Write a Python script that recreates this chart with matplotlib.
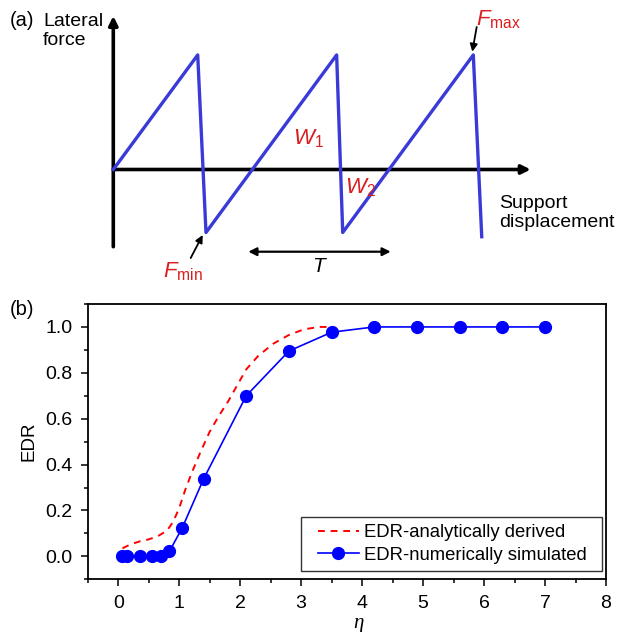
import matplotlib
matplotlib.use('Agg')
import matplotlib.pyplot as plt
from matplotlib.patches import Rectangle
from matplotlib.ticker import MultipleLocator, FormatStrFormatter

plt.rcParams['font.family'] = ['Liberation Sans', 'DejaVu Sans']
plt.rcParams['mathtext.fontset'] = 'custom'
plt.rcParams['mathtext.rm'] = 'Liberation Sans'
plt.rcParams['mathtext.it'] = 'Liberation Sans:italic'

# (a) idealised stick-slip force loop (displacement / force in units of the first peak)
disp = [0.0, 1.0, 1.098, 2.646, 2.718, 4.265, 4.365]
force = [0.0, 1.0, -0.55, 1.0, -0.55, 1.0, -0.587]

# (b) energy dissipation ratio vs eta
eta_num = [0.07, 0.14, 0.35, 0.56, 0.70, 0.84, 1.05, 1.40, 2.10, 2.80, 3.50, 4.20, 4.90, 5.60, 6.30, 7.00]
edr_num = [0.0, 0.0, 0.0, 0.0, 0.0, 0.022, 0.124, 0.337, 0.700, 0.895, 0.977, 1.0, 1.0, 1.0, 1.0, 1.0]

eta_ana = [0.07, 0.2, 0.35, 0.5, 0.65, 0.8, 0.9, 1.0, 1.1, 1.2, 1.35, 1.5, 1.65, 1.8, 1.95,
           2.1, 2.3, 2.55, 2.8, 3.05, 3.3, 3.5]
edr_ana = [0.035, 0.052, 0.065, 0.074, 0.088, 0.112, 0.15, 0.21, 0.29, 0.36, 0.455, 0.543, 0.612,
           0.674, 0.745, 0.815, 0.875, 0.928, 0.965, 0.99, 1.0, 1.0]

W, H = 618, 632
fig = plt.figure(figsize=(W / 100, H / 100), dpi=100)


def fx(px):
    return px / W


def fy(py):
    return 1 - py / H


red_txt = '#d81e1e'

# ---- panel (a) ----
ax_a = fig.add_axes([fx(113.3), fy(246.7), (530.7 - 113.3) / W, (246.7 - 16) / H])
ax_a.set_xlim(0, 4.945)
ax_a.set_ylim(-0.674, 1.34)
ax_a.axis('off')

axis_arrow = dict(arrowstyle='-|>', lw=2.6, color='k', mutation_scale=13, shrinkA=0, shrinkB=0)
ax_a.annotate('', xy=(0, 1.34), xytext=(0, -0.674), arrowprops=axis_arrow, annotation_clip=False)
ax_a.annotate('', xy=(4.945, 0), xytext=(0, 0), arrowprops=axis_arrow, annotation_clip=False)
ax_a.plot(disp, force, color='#3a3ad8', lw=2.4, clip_on=False, zorder=3)

fig.text(fx(10), fy(20), '(a)', fontsize=14.5, va='center')
fig.text(fx(43), fy(31), 'Lateral\nforce', fontsize=14, va='center', linespacing=1.2)
fig.text(fx(499), fy(213), 'Support\ndisplacement', fontsize=14, va='center', linespacing=1.15)

fig.text(fx(293), fy(144), r'$W_1$', fontsize=16, color=red_txt, va='baseline')
fig.text(fx(345), fy(193), r'$W_2$', fontsize=16, color=red_txt, va='baseline')
fig.text(fx(163), fy(277), r'$F_{\mathrm{min}}$', fontsize=16, color=red_txt, va='baseline')
fig.text(fx(476), fy(25), r'$F_{\mathrm{max}}$', fontsize=16, color=red_txt, va='baseline')
fig.text(fx(319), fy(272), 'T', fontsize=15, style='italic', ha='center', va='baseline')

thin_arrow = dict(arrowstyle='-|>', lw=1.3, color='k', mutation_scale=11, shrinkA=0, shrinkB=0)
fig_ann = dict(xycoords='figure fraction', textcoords='figure fraction', arrowprops=thin_arrow)
ax_a.annotate('', xy=(fx(202.7), fy(235)), xytext=(fx(190.7), fy(258)), **fig_ann)
ax_a.annotate('', xy=(fx(472.3), fy(51.7)), xytext=(fx(476.7), fy(27)), **fig_ann)
ax_a.annotate('', xy=(fx(390.7), fy(251.7)), xytext=(fx(248.3), fy(251.7)),
              xycoords='figure fraction', textcoords='figure fraction',
              arrowprops=dict(arrowstyle='<|-|>', lw=1.6, color='k', mutation_scale=12,
                              shrinkA=0, shrinkB=0))

# ---- panel (b) ----
ax_b = fig.add_axes([fx(87.7), fy(579.3), (606 - 87.7) / W, (579.3 - 304) / H])
ax_b.plot(eta_ana, edr_ana, color='#ff0000', lw=1.4, ls=(0, (3.5, 3)),
          label='EDR-analytically derived')
ax_b.plot(eta_num, edr_num, color='#0000ff', lw=1.2, marker='o', ms=8.5,
          label='EDR-numerically simulated')

ax_b.set_xlim(-0.5, 8)
ax_b.set_ylim(-0.1, 1.1)
ax_b.xaxis.set_major_locator(MultipleLocator(1))
ax_b.xaxis.set_minor_locator(MultipleLocator(0.5))
ax_b.yaxis.set_major_locator(MultipleLocator(0.2))
ax_b.yaxis.set_minor_locator(MultipleLocator(0.1))
ax_b.yaxis.set_major_formatter(FormatStrFormatter('%.1f'))
ax_b.tick_params(which='both', direction='out', width=1.1, labelsize=14)
ax_b.tick_params(which='major', length=5, pad=6)
ax_b.tick_params(which='minor', length=3)
for sp in ax_b.spines.values():
    sp.set_linewidth(1.3)

ax_b.set_ylabel('EDR', fontsize=13.5)
ax_b.yaxis.set_label_coords(-0.097, 0.5)
ax_b.set_xlabel('η', fontsize=15, family='Liberation Serif', style='italic')
ax_b.xaxis.set_label_coords(0.523, -0.127)

# legend box drawn separately so its padding can be wider than tall
ax_b.add_patch(Rectangle((0.4115, 0.0301), 0.5802, 0.1973, transform=ax_b.transAxes,
                         facecolor='white', edgecolor='#333333', lw=1.0, zorder=4))
leg = ax_b.legend(loc='center left', bbox_to_anchor=(0.4443, 0.1288), borderaxespad=0,
                  fontsize=13.3, frameon=False, handlelength=2.2, handletextpad=0.3,
                  labelspacing=0.3, borderpad=0)
leg.set_zorder(5)

fig.text(fx(10), fy(310), '(b)', fontsize=14.5, va='center')

fig.savefig('out.png', dpi=100)
